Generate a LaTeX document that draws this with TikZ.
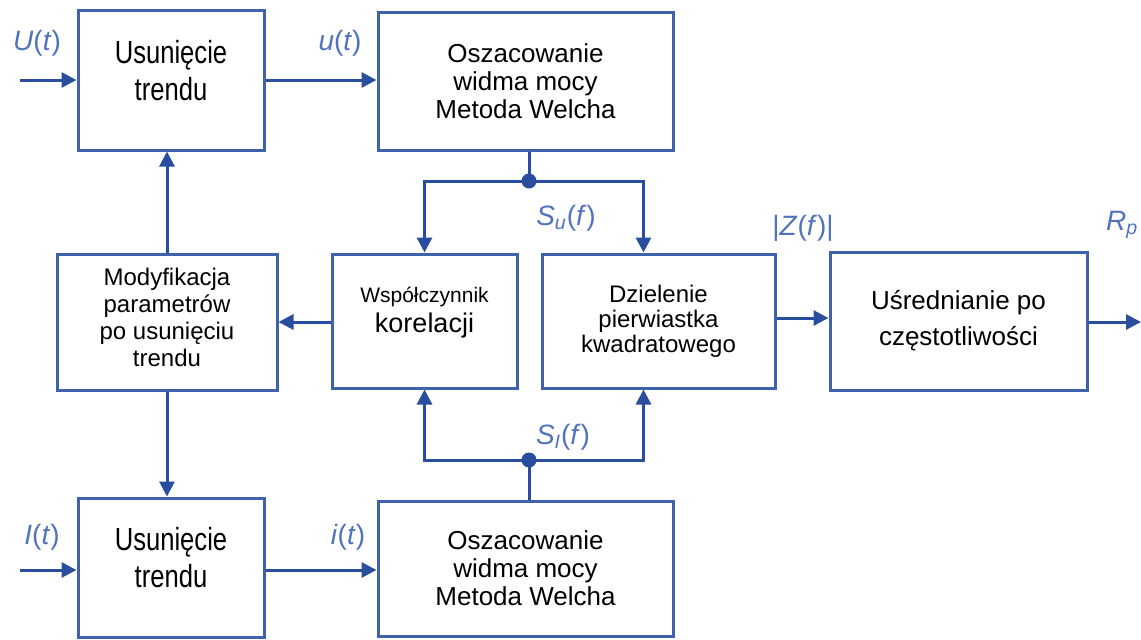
\documentclass[tikz,border=0pt]{standalone}
\usepackage{fontspec}
\setmainfont{Liberation Sans}
\newfontfamily\waskifont{Liberation Sans}[FakeStretch=0.8]
\usetikzlibrary{arrows.meta}
\definecolor{ramka}{RGB}{62,98,172}
\definecolor{linia}{RGB}{42,78,158}
\definecolor{opis}{RGB}{80,115,188}
\newcommand{\px}{0.5pt}
\newcommand{\sig}[2]{\textit{#1}(\textit{#2})}

\begin{document}
\begin{tikzpicture}[x=\px, y=-\px]
  \tikzset{
    blok/.style={draw=ramka, line width=1.5pt, fill=white, align=center, inner sep=0pt},
    strz/.style={draw=linia, line width=1.5pt, -{Triangle[length=7.5pt,width=7.5pt]}},
    lin/.style={draw=linia, line width=1.5pt},
    etyk/.style={text=opis, font=\fontsize{14}{14}\selectfont},
    kropka/.style={circle, fill=linia, inner sep=0pt, minimum size=7.5pt},
    duzy/.style={font=\waskifont\fontsize{16}{18.5}\selectfont, text depth=10pt},
    sredni/.style={font=\fontsize{13}{14}\selectfont},
  }
  \useasboundingbox (0,0) rectangle (1141,639);

  \node[blok, duzy, minimum width=93pt, minimum height=70pt] (usun1) at (171,80) {Usunięcie\\trendu};
  \node[blok, sredni, minimum width=147.5pt, minimum height=69pt] (osz1) at (525.5,81) {Oszacowanie\\widma mocy\\Metoda Welcha};
  \node[blok, font=\fontsize{12}{13.5}\selectfont, text depth=5pt, minimum width=110pt, minimum height=68pt] (mod) at (167,322) {Modyfikacja\\parametrów\\po usunięciu\\trendu};
  \node[blok, text depth=11pt, minimum width=92.5pt, minimum height=67pt] (kor) at (424.5,321)
    {{\fontsize{10.5}{12}\selectfont Współczynnik}\\[3pt]{\fontsize{13.5}{15}\selectfont korelacji}};
  \node[blok, font=\fontsize{12}{12.5}\selectfont, minimum width=116.5pt, minimum height=67pt] (dziel) at (658.5,321) {Dzielenie\\pierwiastka\\kwadratowego};
  \node[blok, font=\fontsize{13}{18}\selectfont, minimum width=128.5pt, minimum height=69pt] (usr) at (958.5,321) {Uśrednianie po\\częstotliwości};
  \node[blok, duzy, minimum width=93pt, minimum height=69.5pt] (usun2) at (171,567.5) {Usunięcie\\trendu};
  \node[blok, sredni, minimum width=147.5pt, minimum height=67.5pt] (osz2) at (525.5,568.5) {Oszacowanie\\widma mocy\\Metoda Welcha};

  \coordinate (wejU) at (20,80);
  \coordinate (wejI) at (20,570);
  \coordinate (wyj) at (1141,322);
  \coordinate (wezU) at (529,181);
  \coordinate (wezI) at (529,460);

  \draw[strz] (wejU) -- (usun1.west |- wejU);
  \draw[strz] (usun1.east |- wejU) -- (osz1.west |- wejU);
  \draw[strz] (wejI) -- (usun2.west |- wejI);
  \draw[strz] (usun2.east |- wejI) -- (osz2.west |- wejI);

  \draw[lin] (osz1.south -| wezU) -- (wezU);
  \draw[strz] (wezU) -| (kor.north);
  \draw[strz] (wezU) -| ([xshift=-7.5pt]dziel.north);
  \node[kropka] (kU) at (wezU) {};

  \draw[lin] (osz2.north -| wezI) -- (wezI);
  \draw[strz] (wezI) -| (kor.south);
  \draw[strz] (wezI) -| ([xshift=-7.5pt]dziel.south);
  \node[kropka] (kI) at (wezI) {};

  \draw[strz] (kor.west |- mod.east) -- (mod.east);
  \draw[strz] (mod.north) -- (mod.north |- usun1.south);
  \draw[strz] (mod.south) -- (mod.south |- usun2.north);
  \draw[strz] (dziel.east |- 0,318) -- (usr.west |- 0,318);
  \draw[strz] (usr.east |- wyj) -- (wyj);

  \node[etyk] (lU) at (37,43) {\sig{U}{t}};
  \node[etyk] (lu) at (340,43) {\sig{u}{t}};
  \node[etyk] (lI) at (42,537) {\sig{I}{t}};
  \node[etyk] (li) at (348,537) {\sig{i}{t}};
  \node[etyk] (lSu) at (566,218) {\textit{S}\textsubscript{\textit{u}}(\textit{f})};
  \node[etyk] (lSI) at (563,437) {\textit{S}\textsubscript{\textit{I}}(\textit{f})};
  \node[etyk] (lZ) at (803,228) {|\textit{Z}(\textit{f})|};
  \node[etyk, anchor=west] (lR) at (1099,225) {\textit{R}\textsubscript{\textit{p}}};
\end{tikzpicture}
\end{document}
